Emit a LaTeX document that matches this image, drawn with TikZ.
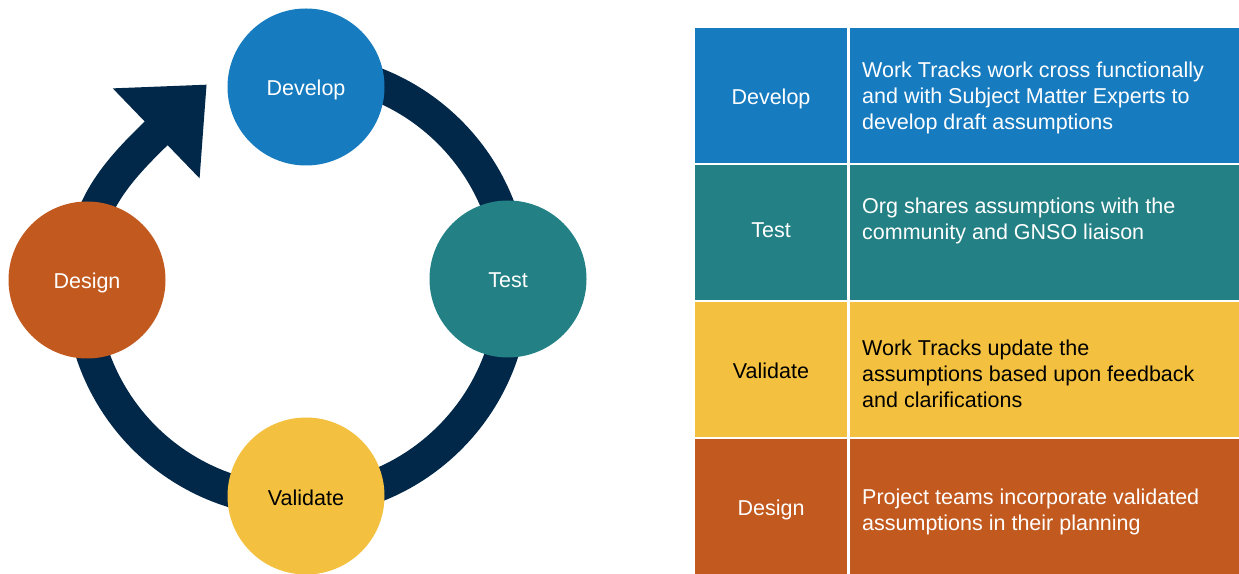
\documentclass[tikz,border=0pt]{standalone}
\usepackage{fontspec}
\setmainfont{Liberation Sans}
\usetikzlibrary{calc}
\definecolor{devblue}{RGB}{23,123,192}
\definecolor{testteal}{RGB}{35,128,133}
\definecolor{valyellow}{RGB}{243,193,63}
\definecolor{desorange}{RGB}{194,90,32}
\definecolor{ringnavy}{RGB}{2,40,73}
\begin{document}
\begin{tikzpicture}[x=1pt,y=1pt,
  every node/.style={font=\fontsize{21.5}{26}\selectfont},
  stage/.style={circle,minimum size=157pt,inner sep=0pt,text=white,text height=18pt,text depth=0pt},
  cell/.style={draw=white,line width=1.5pt,minimum height=137pt,inner sep=0pt,text=white,text height=18pt,text depth=0pt},
  txt/.style={anchor=west,align=left,inner sep=0pt,text=white}]
\useasboundingbox (0,0) rectangle (1239,573);
\coordinate (o) at (297,288);
\coordinate (q) at ($(o)+(132.6:207)$);
% the cycle ring and its head
\draw[ringnavy,line width=33pt] ($(o)+(90:216)$) arc[start angle=90,end angle=-185,radius=216]
      to[out=85,in=224] (q);
\fill[ringnavy] ($(q)+(134:62.5)+(224:1)$) -- ($(q)+(44:69)$)
      -- ($(q)+(314:62.5)+(224:1)$) -- cycle;
% stages
\node[stage,fill=devblue] (dev) at (306,486) {Develop};
\node[stage,fill=testteal] (tst) at (508,294) {Test};
\node[stage,fill=valyellow,text=black] (val) at (306,77) {Validate};
\node[stage,fill=desorange] (des) at (87,293) {Design};
% table
\node[cell,fill=devblue,minimum width=154pt] (dev-l) at (771,477.5) {Develop};
\node[cell,fill=devblue,minimum width=394pt,anchor=west] (dev-r) at (848,477.5) {};
\node[cell,fill=testteal,minimum width=154pt,text depth=8pt] (tst-l) at (771,340.5) {Test};
\node[cell,fill=testteal,minimum width=394pt,anchor=west] (tst-r) at (848,340.5) {};
\node[cell,fill=valyellow,text=black,minimum width=154pt] (val-l) at (771,203.5) {Validate};
\node[cell,fill=valyellow,minimum width=394pt,anchor=west] (val-r) at (848,203.5) {};
\node[cell,fill=desorange,minimum width=154pt] (des-l) at (771,66.5) {Design};
\node[cell,fill=desorange,minimum width=394pt,anchor=west] (des-r) at (848,66.5) {};
\node[txt] (dev-t) at ([xshift=14pt,yshift=-2pt]dev-r.west)
  {Work Tracks work cross functionally\\and with Subject Matter Experts to\\develop draft assumptions};
\node[txt] (tst-t) at ([xshift=14pt,yshift=11.5pt]tst-r.west)
  {Org shares assumptions with the\\community and GNSO liaison};
\node[txt,text=black] (val-t) at ([xshift=14pt,yshift=-4pt]val-r.west)
  {Work Tracks update the\\assumptions based upon feedback\\and clarifications};
\node[txt] (des-t) at ([xshift=14pt,yshift=-5pt]des-r.west)
  {Project teams incorporate validated\\assumptions in their planning};
\end{tikzpicture}
\end{document}
